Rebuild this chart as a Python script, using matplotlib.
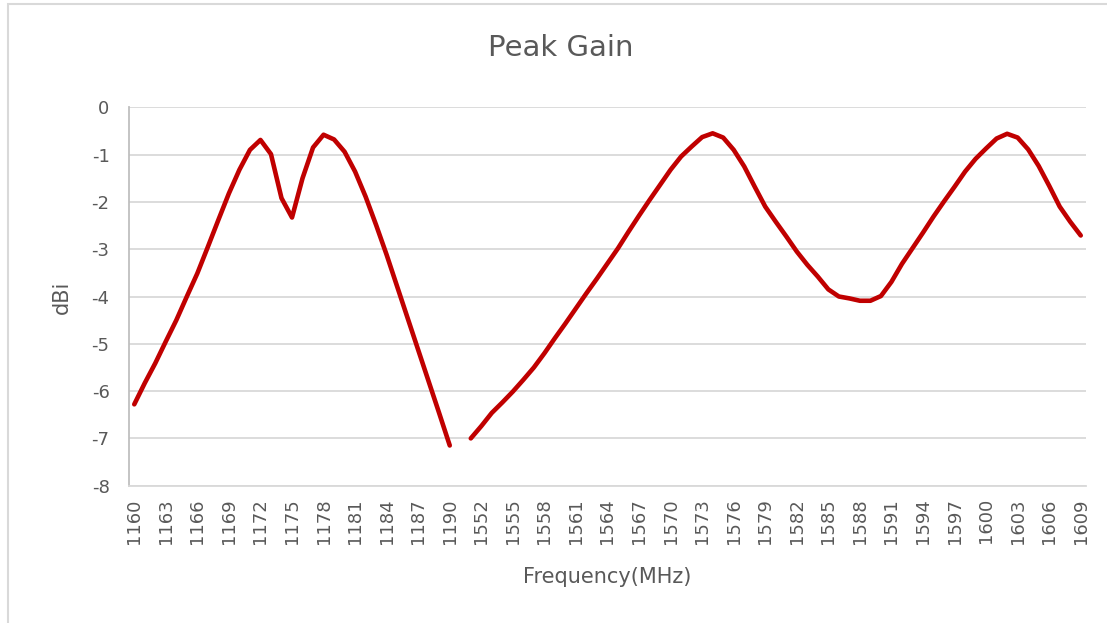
import matplotlib.pyplot as plt
import matplotlib.patches as patches
import numpy as np

# categories: 1160..1190, one blank slot, 1551..1609
freq_low = list(range(1160, 1191))
freq_high = list(range(1551, 1610))
categories = [str(f) for f in freq_low] + [""] + [str(f) for f in freq_high]

gain_low = [-6.28, -5.83, -5.41, -4.95, -4.50, -4.00, -3.51, -2.95, -2.38, -1.82,
            -1.32, -0.90, -0.69, -0.99, -1.92, -2.33, -1.50, -0.85, -0.58, -0.68,
            -0.94, -1.36, -1.89, -2.49, -3.12, -3.79, -4.46, -5.13, -5.80, -6.47,
            -7.15]
gain_high = [-7.00, -6.74, -6.46, -6.24, -6.01, -5.76, -5.50, -5.20, -4.88, -4.57,
             -4.25, -3.93, -3.62, -3.30, -2.98, -2.63, -2.29, -1.96, -1.64, -1.32,
             -1.04, -0.83, -0.63, -0.55, -0.64, -0.90, -1.25, -1.68, -2.10, -2.42,
             -2.73, -3.05, -3.33, -3.58, -3.85, -4.00, -4.04, -4.09, -4.09, -3.99,
             -3.69, -3.31, -2.98, -2.65, -2.31, -1.99, -1.68, -1.36, -1.09, -0.87,
             -0.66, -0.56, -0.64, -0.89, -1.24, -1.66, -2.10, -2.42, -2.71]
gain = gain_low + [np.nan] + gain_high

txt = "#595959"
grid = "#D9D9D9"

fig = plt.figure(figsize=(11.07, 6.23), dpi=100)
ax = fig.add_axes([129/1107, 1-485.7/623, (1086-129)/1107, (485.7-107.3)/623])

x = np.arange(len(categories))
ax.plot(x, gain, color="#C00000", lw=3.3, solid_joinstyle="round", solid_capstyle="round")

ax.set_xlim(-0.5, len(categories)-0.5)
ax.set_ylim(-8, 0)
ax.set_yticks(range(-8, 1))
ax.set_yticklabels([str(v) for v in range(-8, 1)])
ax.set_xticks(x[::3])
ax.set_xticklabels(categories[::3], rotation=90)
ax.tick_params(axis="both", length=0, labelsize=13, colors=txt)
ax.tick_params(axis="y", pad=14)
ax.tick_params(axis="x", pad=9)

ax.grid(axis="y", color=grid, lw=1.3)
ax.set_axisbelow(True)
for s in ["top", "right"]:
    ax.spines[s].set_visible(False)
ax.spines["left"].set_color("#BFBFBF")
ax.spines["left"].set_linewidth(1.3)
ax.spines["bottom"].set_color(grid)
ax.spines["bottom"].set_linewidth(1.3)

fig.text(561/1107, 1-48/623, "Peak Gain", ha="center", va="center", fontsize=21, color=txt)
fig.text(607/1107, 1-577/623, "Frequency(MHz)", ha="center", va="center", fontsize=15, color=txt)
fig.text(62/1107, 1-297/623, "dBi", ha="center", va="center", rotation=90, fontsize=15, color=txt)

# chart frame (only left and top edges fall inside the picture)
fig.patches.append(patches.Rectangle((7.5/1107, -0.1), 1.2, 1-4/623+0.1, transform=fig.transFigure,
                                     fill=False, edgecolor="#D9D9D9", lw=1.5))

plt.savefig("out.png", dpi=100)
